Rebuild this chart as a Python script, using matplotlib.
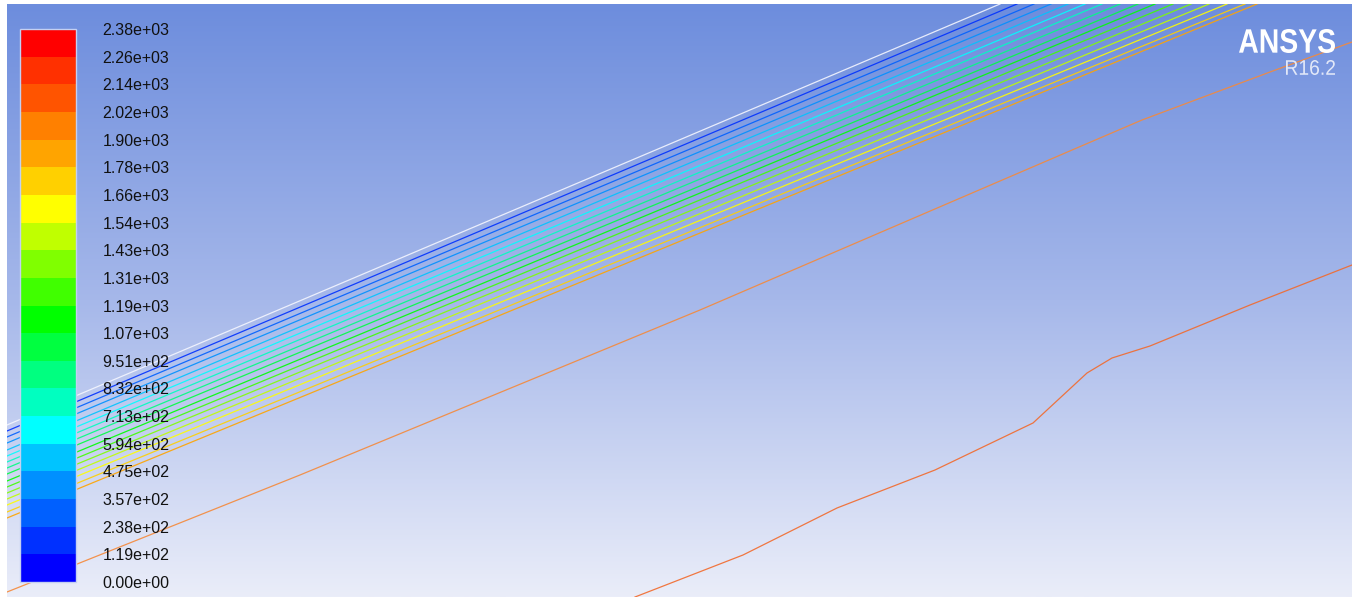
import numpy as np
import matplotlib
matplotlib.use('Agg')
import matplotlib.pyplot as plt
import matplotlib.cm as cm
from matplotlib.colors import ListedColormap, BoundaryNorm, LinearSegmentedColormap
from matplotlib.textpath import TextPath
from matplotlib.patches import PathPatch
from matplotlib.font_manager import FontProperties
from matplotlib.transforms import Affine2D

W, H = 1357, 597

# colour scale (20 bands)
levels = [0, 119, 238, 357, 475, 594, 713, 832, 951, 1070, 1190,
          1310, 1430, 1540, 1660, 1780, 1900, 2020, 2140, 2260, 2380]
level_labels = ['0.00e+00', '1.19e+02', '2.38e+02', '3.57e+02', '4.75e+02',
                '5.94e+02', '7.13e+02', '8.32e+02', '9.51e+02', '1.07e+03',
                '1.19e+03', '1.31e+03', '1.43e+03', '1.54e+03', '1.66e+03',
                '1.78e+03', '1.90e+03', '2.02e+03', '2.14e+03', '2.26e+03',
                '2.38e+03']
band_colors = ['#0000FF', '#0030FF', '#0060FF', '#0090FF', '#00C4FF',
               '#00FFFF', '#00FFC0', '#00FF80', '#00FF40', '#00FF00',
               '#40FF00', '#80FF00', '#C0FF00', '#FFFF00', '#FFD000',
               '#FFA400', '#FF8000', '#FF5400', '#FF3000', '#FF0000']

# contour band: y where each line leaves the left edge, x where it hits the top edge
band_left_y = [425, 431, 437, 443, 450, 456, 462, 468, 474, 481, 487, 493, 499, 505, 512, 518]
band_top_x = [1000, 1017, 1034, 1051, 1068, 1085, 1102, 1120, 1138, 1155, 1173, 1191, 1209, 1227, 1245, 1257]
band_line_colors = ['#F4F6FF'] + band_colors[1:16]

# two lone contours further down
lineA_x = [7, 300, 700, 1000, 1100, 1142, 1270, 1352]
lineA_y = [592, 475, 310, 181, 138, 120, 72, 42]
lineB_x = [635, 743, 837, 935, 1033, 1087, 1112, 1150, 1250, 1352]
lineB_y = [597, 555, 508, 470, 423, 373, 358, 346, 305, 265]

fig = plt.figure(figsize=(W / 100, H / 100), dpi=100)
fig.patch.set_facecolor('white')
ax = fig.add_axes([0, 0, 1, 1])
ax.set_xlim(0, W)
ax.set_ylim(H, 0)
ax.axis('off')

# background gradient
grad = LinearSegmentedColormap.from_list('bg', ['#6D8DDD', '#A6B8EA', '#EAEDF9'])
g = np.linspace(0, 1, 256).reshape(-1, 1)
ax.imshow(g, cmap=grad, aspect='auto', extent=(7, 1352, 597, 4), zorder=0)

clip = plt.Rectangle((7, 4), 1345, 593, transform=ax.transData)

for ly, tx, c in zip(band_left_y, band_top_x, band_line_colors):
    ln, = ax.plot([7, tx], [ly, 4], color=c, lw=0.9, alpha=0.9, zorder=2)
    ln.set_clip_path(clip)

for xs, ys, c in [(lineA_x, lineA_y, '#F5893A'), (lineB_x, lineB_y, '#F26A2C')]:
    ln, = ax.plot(xs, ys, color=c, lw=0.9, alpha=0.9, zorder=2)
    ln.set_clip_path(clip)

# ANSYS logo
def logo_text(s, x0, x1, ytop, ybot, weight, color):
    tp = TextPath((0, 0), s, size=100,
                  prop=FontProperties(family='Liberation Sans', weight=weight))
    ext = tp.get_extents()
    sx = (x1 - x0) / ext.width
    sy = (ybot - ytop) / ext.height
    tr = Affine2D().translate(-ext.x0, -ext.y0).scale(sx, -sy).translate(x0, ybot)
    ax.add_patch(PathPatch(tr.transform_path(tp), fc=color, ec='none', zorder=3))

logo_text('ANSYS', 1239, 1335, 29, 53, 'bold', '#FFFFFF')
logo_text('R16.2', 1286, 1335, 60, 75, 'normal', '#E2E8F8')

# colour bar
cax = fig.add_axes([20 / W, 1 - 582 / H, 56 / W, (582 - 29) / H])
cmap = ListedColormap(band_colors)
norm = BoundaryNorm(levels, cmap.N)
cb = fig.colorbar(cm.ScalarMappable(norm=norm, cmap=cmap), cax=cax, ticks=levels)
cb.ax.set_yticklabels(level_labels)
cb.ax.tick_params(length=0, pad=19, labelsize=11.5, labelcolor='#111111')
for t in cb.ax.get_yticklabels():
    t.set_fontfamily('Liberation Sans')
cb.outline.set_edgecolor('#C4D0F2')
cb.outline.set_linewidth(1.0)

fig.savefig('out.png', dpi=100)
